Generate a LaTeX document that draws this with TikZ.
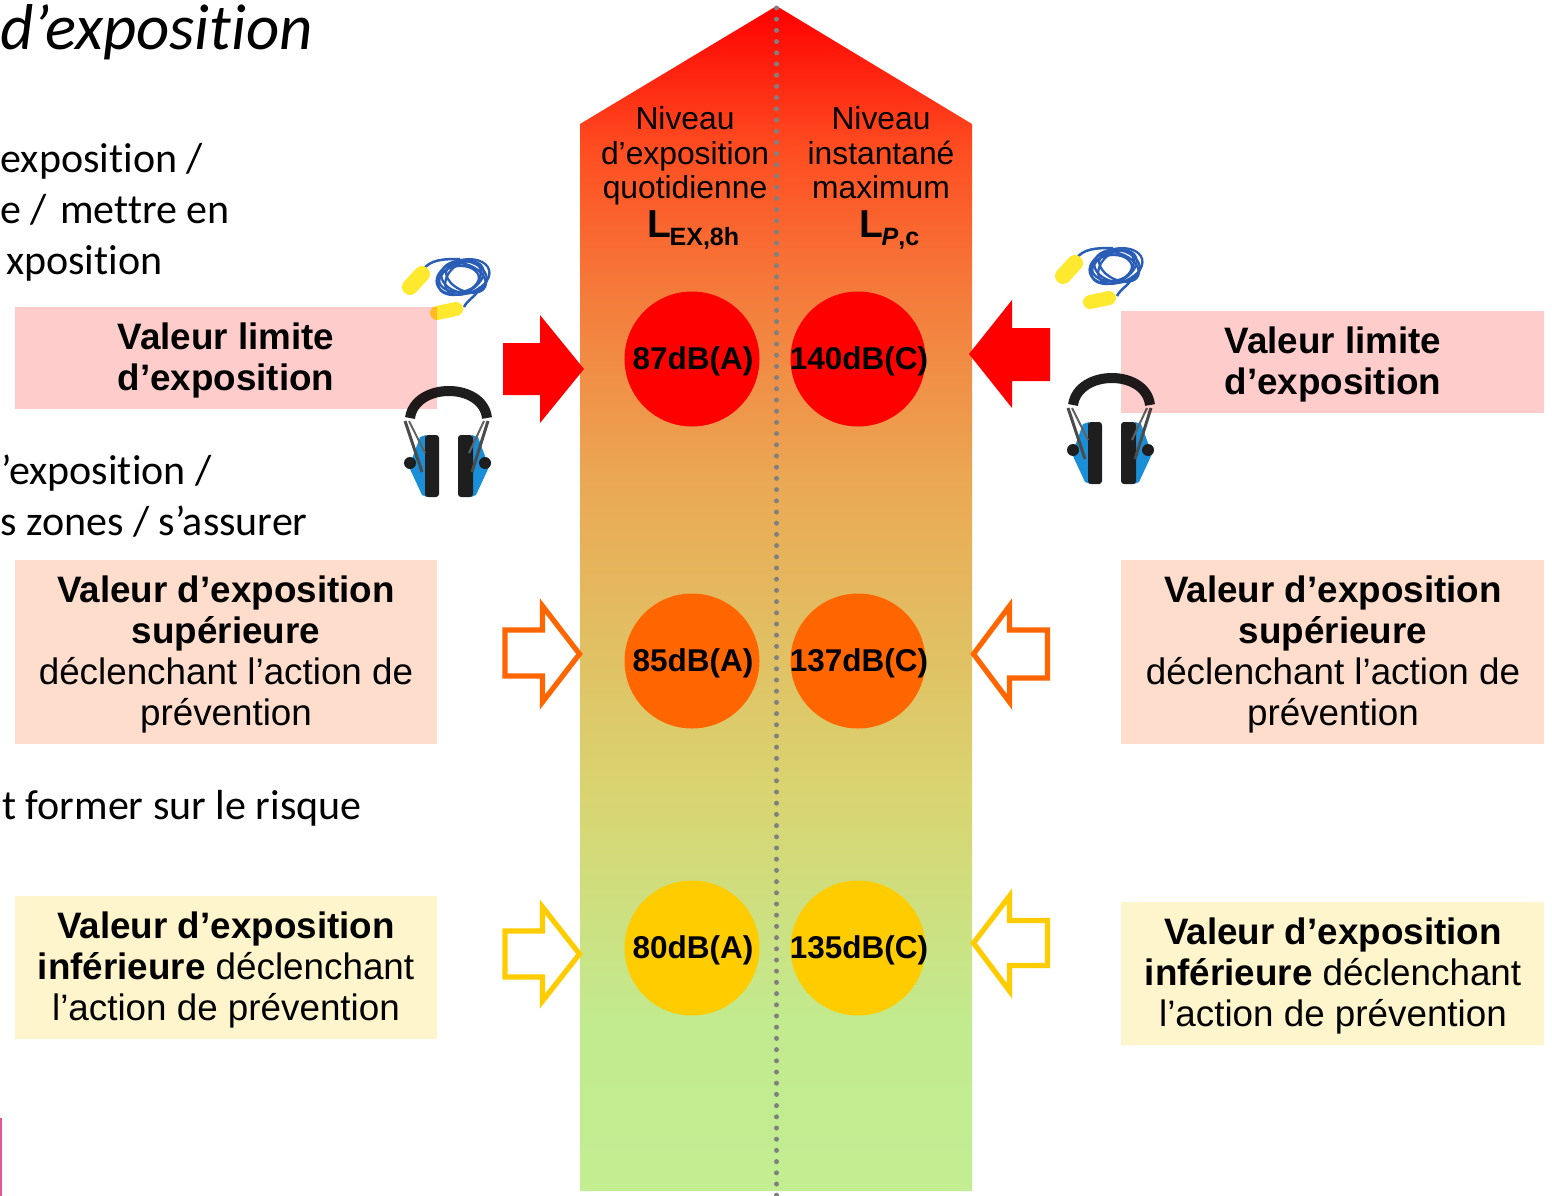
\documentclass[tikz,border=0pt]{standalone}
\usepackage{fontspec}
\setmainfont{Liberation Sans}
\newfontfamily\bodyfont[Ligatures=NoCommon]{Carlito}
\usetikzlibrary{calc}
\definecolor{cRed}{HTML}{FF0000}
\definecolor{cOrange}{HTML}{FF6600}
\definecolor{cYellow}{HTML}{FFCC00}
\definecolor{boxRed}{HTML}{FFCCCC}
\definecolor{boxOrange}{HTML}{FFDDCC}
\definecolor{boxYellow}{HTML}{FFF5CC}
\definecolor{band}{HTML}{1E1E1E}
\definecolor{cupblue}{HTML}{1A8FD8}
\definecolor{cord}{HTML}{2A5DB5}
\definecolor{plug}{HTML}{FFE92E}
\pgfdeclareverticalshading{risegrad}{100bp}{
 rgb(0bp)=(0.76,0.93,0.57);
 rgb(25bp)=(0.76,0.93,0.57);
 rgb(32bp)=(0.76,0.92,0.56);
 rgb(42bp)=(0.85,0.83,0.44);
 rgb(55bp)=(0.92,0.66,0.33);
 rgb(63bp)=(0.96,0.48,0.23);
 rgb(69bp)=(1,0.30,0.13);
 rgb(75bp)=(1,0,0);
 rgb(100bp)=(1,0,0)}
\tikzset{
 px/.style={x=1pt,y=-1pt},
 boxlab/.style={font=\fontsize{36.8}{41}\selectfont,align=center,text=black,inner sep=0pt},
 boxfill/.style={fill=#1,draw=none,blend mode=multiply},
 levcirc/.style={circle,draw=none,fill=#1,minimum size=135pt,inner sep=0pt,font=\bfseries\fontsize{31.5}{36}\selectfont,text=black},
 outarrow/.style={draw=#1,line width=5.2pt,fill=none,miter limit=10},
 headtxt/.style={font=\fontsize{31.8}{34.5}\selectfont,align=center,text=black,inner sep=0pt},
 body/.style={font=\bodyfont\fontsize{42}{42}\selectfont,anchor=base west,inner sep=0pt,text=black},
}
\newcommand{\lev}[1]{\makebox[0pt]{\kern2pt\raisebox{-10.5pt}[0pt][0pt]{#1}}}
\newcommand{\earplugs}[2]{%
 \begin{scope}[shift={(#1,#2)}]
  \draw[cord,line width=2.5pt] (18,14) .. controls (26,2) and (40,2) .. (56,2);
  \draw[cord,line width=2.5pt] (76,30) .. controls (72,40) and (64,42) .. (60,50);
  \foreach \r/\rx/\ry/\dx/\dy in {15/27/17/0/0,25/24/15/-2/1,-10/23/16/1/0,40/20/14/0/1,5/20/13/-4/2,-25/21/13/3/1}{
   \draw[cord,line width=2.3pt,rotate around={\r:(59+\dx,20+\dy)}] (59+\dx,20+\dy) ellipse ({\rx} and {\ry});
  }
  \draw[plug,line width=16pt,line cap=round] (6,30) -- (18,17);
  \draw[plug,line width=14pt,line cap=round] (33,56) -- (52,52);
 \end{scope}}
\newcommand{\muffs}[2]{%
 \begin{scope}[shift={(#1,#2)}]
  \fill[cupblue] (23,50) -- (17,52) -- (6,82) -- (19,110) -- (24,112) -- cycle;
  \fill[cupblue] (69,50) -- (75,52) -- (86,82) -- (73,110) -- (68,112) -- cycle;
  \fill[band,rounded corners=3pt] (22,50) rectangle (36,112);
  \fill[band,rounded corners=3pt] (55,50) rectangle (70,112);
  \fill[band] (7,78) circle (6);
  \fill[band] (82,78) circle (6);
  \draw[band!80!white,line width=3pt] (2,36) -- (19,87);
  \draw[band!80!white,line width=3pt] (85,36) -- (69,87);
  \draw[band!70!white,line width=2pt] (6,36) -- (22,68);
  \draw[band!70!white,line width=2pt] (81,36) -- (66,68);
  \draw[band,line width=10pt] (7,33) .. controls (12,-3) and (80,-3) .. (84,33);
 \end{scope}}
\begin{document}
\begin{tikzpicture}[px]
\useasboundingbox (0,0) rectangle (1552,1196);
\fill[white] (0,0) rectangle (1552,1196);
% left margin text
\node[font=\bodyfont\itshape\fontsize{64.8}{64.8}\selectfont,anchor=base west,inner sep=0pt] (title) at (0,50) {d’exposition};
\node[body] (t1) at (0.5,172) {exposition /};
\node[body] (t2) at (0,223) {e /\ \kern-5.5pt\ mettre en};
\node[body] (t3) at (6,274) {xposition};
\node[body] (t4) at (1.5,484) {’exposition /};
\node[body] (t5) at (0.5,535) {s zones / s’assurer};
\node[body] (t6) at (2,819) {t former sur le risque};
\fill[fill={rgb,255:red,231;green,84;blue,150}] (0,1118) rectangle (2,1196);
% central arrow
\shade[shading=risegrad] (580,124) -- (776.5,6) -- (972,124) -- (972,1191) -- (580,1191) -- cycle;
\coordinate (axT) at (776.5,8);
\coordinate (axB) at (776.5,1196);
\draw[draw={rgb,255:red,128;green,128;blue,128},line width=5pt,line cap=round,dash pattern=on 0pt off 11.2pt] (axT) -- (axB);
\node[headtxt] (hl) at (685,156) {Niveau\\d’exposition\\quotidienne};
\node[headtxt] (hr) at (881,153) {Niveau\\instantané\\maximum};
\node[inner sep=0pt,anchor=base,text=black] (ll) at (693.5,237) {\bfseries\fontsize{39}{39}\selectfont L\kern-2pt\fontsize{25}{25}\selectfont\raisebox{-8pt}{EX,8h}};
\node[inner sep=0pt,anchor=base,text=black] (lr) at (889.5,237) {\bfseries\fontsize{39}{39}\selectfont L\kern-2pt\fontsize{25}{25}\selectfont\raisebox{-8pt}{\textit{P},c}};
% circles
\node[levcirc=cRed] (c1) at (692,359) {\lev{87dB(A)}};
\node[levcirc=cRed] (c2) at (858,359) {\lev{140dB(C)}};
\node[levcirc=cOrange] (c3) at (692,661) {\lev{85dB(A)}};
\node[levcirc=cOrange] (c4) at (858,661) {\lev{137dB(C)}};
\node[levcirc=cYellow] (c5) at (692,948) {\lev{80dB(A)}};
\node[levcirc=cYellow] (c6) at (858,948) {\lev{135dB(C)}};
% PPE
\earplugs{404}{257}
\earplugs{1057}{246}
\muffs{403}{385}
\muffs{1066}{372}
% boxes
\fill[boxfill=boxRed] (15,307) rectangle (437,409);
\fill[boxfill=boxRed] (1121,311) rectangle (1544,413);
\fill[boxfill=boxOrange] (15,560) rectangle (437,744);
\fill[boxfill=boxOrange] (1121,560) rectangle (1544,744);
\fill[boxfill=boxYellow] (15,896) rectangle (437,1039);
\fill[boxfill=boxYellow] (1121,902) rectangle (1544,1045);
\node[boxlab] (b1) at (226,360) {\textbf{Valeur limite}\\\textbf{d’exposition}};
\node[boxlab] (b2) at (1333,364) {\textbf{Valeur limite}\\\textbf{d’exposition}};
\node[boxlab] (b3) at (226,654) {\textbf{Valeur d’exposition}\\\textbf{supérieure}\\déclenchant l’action de\\prévention};
\node[boxlab] (b4) at (1333,654) {\textbf{Valeur d’exposition}\\\textbf{supérieure}\\déclenchant l’action de\\prévention};
\node[boxlab] (b5) at (226,970) {\textbf{Valeur d’exposition}\\\textbf{inférieure} déclenchant\\l’action de prévention};
\node[boxlab] (b6) at (1333,976) {\textbf{Valeur d’exposition}\\\textbf{inférieure} déclenchant\\l’action de prévention};
% block arrows
\fill[cRed] (503,343) -- (540,343) -- (540,315) -- (584,369) -- (540,423) -- (540,395) -- (503,395) -- cycle;
\fill[cRed] (1050,328) -- (1012,328) -- (1012,300) -- (969,354) -- (1012,408) -- (1012,381) -- (1050,381) -- cycle;
\draw[outarrow=cOrange] (505,630) -- (542.5,630) -- (542.5,606) -- (579.5,654) -- (542.5,702) -- (542.5,676) -- (505,676) -- cycle;
\draw[outarrow=cOrange] (1047.5,630) -- (1009.5,630) -- (1009.5,606) -- (973.5,654) -- (1009.5,702) -- (1009.5,678) -- (1047.5,678) -- cycle;
\draw[outarrow=cYellow] (505,931) -- (542.5,931) -- (542.5,907) -- (579.5,954) -- (542.5,1001) -- (542.5,977) -- (505,977) -- cycle;
\draw[outarrow=cYellow] (1047.5,920.5) -- (1009.5,920.5) -- (1009.5,896) -- (973.5,943) -- (1009.5,991) -- (1009.5,965.5) -- (1047.5,965.5) -- cycle;
\end{tikzpicture}
\end{document}
